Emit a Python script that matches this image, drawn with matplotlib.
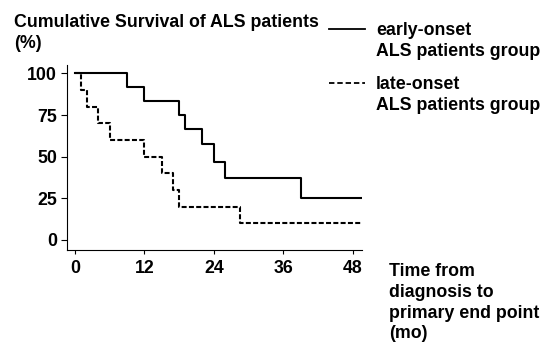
import matplotlib
matplotlib.use('Agg')
import matplotlib.pyplot as plt
from matplotlib.lines import Line2D

# Data (Kaplan-Meier step curves)
months_early = [0, 9, 12, 18, 19, 22, 24, 26, 39, 49.6]
surv_early = [100, 91.7, 83.3, 75, 66.7, 57.5, 47, 37.5, 25, 25]
months_late = [0, 1, 2, 4, 6, 12, 15, 17, 18, 28.5, 49.6]
surv_late = [100, 90, 80, 70, 60, 50, 40, 30, 20, 10, 10]
x_ticks = [0, 12, 24, 36, 48]
y_ticks = [0, 25, 50, 75, 100]
legend_labels = [["early-onset", "ALS patients group"], ["late-onset", "ALS patients group"]]
title_lines = ["Cumulative Survival of ALS patients", "(%)"]
xlabel_lines = ["Time from", "diagnosis to", "primary end point", "(mo)"]

plt.rcParams['font.family'] = ['Liberation Sans', 'DejaVu Sans']
plt.rcParams['font.weight'] = 'bold'
FS = 12.8

W, H = 556, 345
fig = plt.figure(figsize=(W / 100, H / 100), dpi=100)
ax = fig.add_axes([67 / W, 1 - 250 / H, 295 / W, 185 / H])

dash = (0, (2.4, 1.1))
ax.step(months_early, surv_early, where='post', color='black', lw=1.5)
ax.step(months_late, surv_late, where='post', color='black', lw=1.5, linestyle=dash)

ax.set_xlim(-1.38, 49.6)
ax.set_ylim(-6, 105)
ax.set_xticks(x_ticks)
ax.set_yticks(y_ticks)
ax.set_xticklabels([str(v) for v in x_ticks], fontsize=FS, fontweight='bold')
ax.set_yticklabels([str(v) for v in y_ticks], fontsize=FS, fontweight='bold')
ax.tick_params(axis='y', direction='out', length=4.3, width=0.8, pad=3)
ax.tick_params(axis='x', direction='out', length=3, width=0.8, pad=4)
for s in ['top', 'right']:
    ax.spines[s].set_visible(False)
for s in ['left', 'bottom']:
    ax.spines[s].set_linewidth(0.8)

def fy(py):
    return 1 - py / H

# Title lines (baselines in px)
for txt, base in zip(title_lines, [27, 48]):
    fig.text(14 / W, fy(base), txt, fontsize=FS, fontweight='bold', va='baseline', ha='left')

# Legend
leg_styles = ['-', (0, (3.0, 1.6))]
leg_line_y = [29, 83]
leg_baselines = [[35, 56], [89, 110]]
for style, ly, labels, bases in zip(leg_styles, leg_line_y, legend_labels, leg_baselines):
    fig.add_artist(Line2D([329 / W, 365 / W], [fy(ly), fy(ly)], transform=fig.transFigure,
                          color='black', lw=1.3, linestyle=style))
    for txt, b in zip(labels, bases):
        fig.text(376 / W, fy(b), txt, fontsize=FS, fontweight='bold', va='baseline', ha='left')

# X label lines
for txt, b in zip(xlabel_lines, [276, 297, 318, 338]):
    fig.text(389 / W, fy(b), txt, fontsize=FS, fontweight='bold', va='baseline', ha='left')

fig.savefig('out.png', dpi=100)
